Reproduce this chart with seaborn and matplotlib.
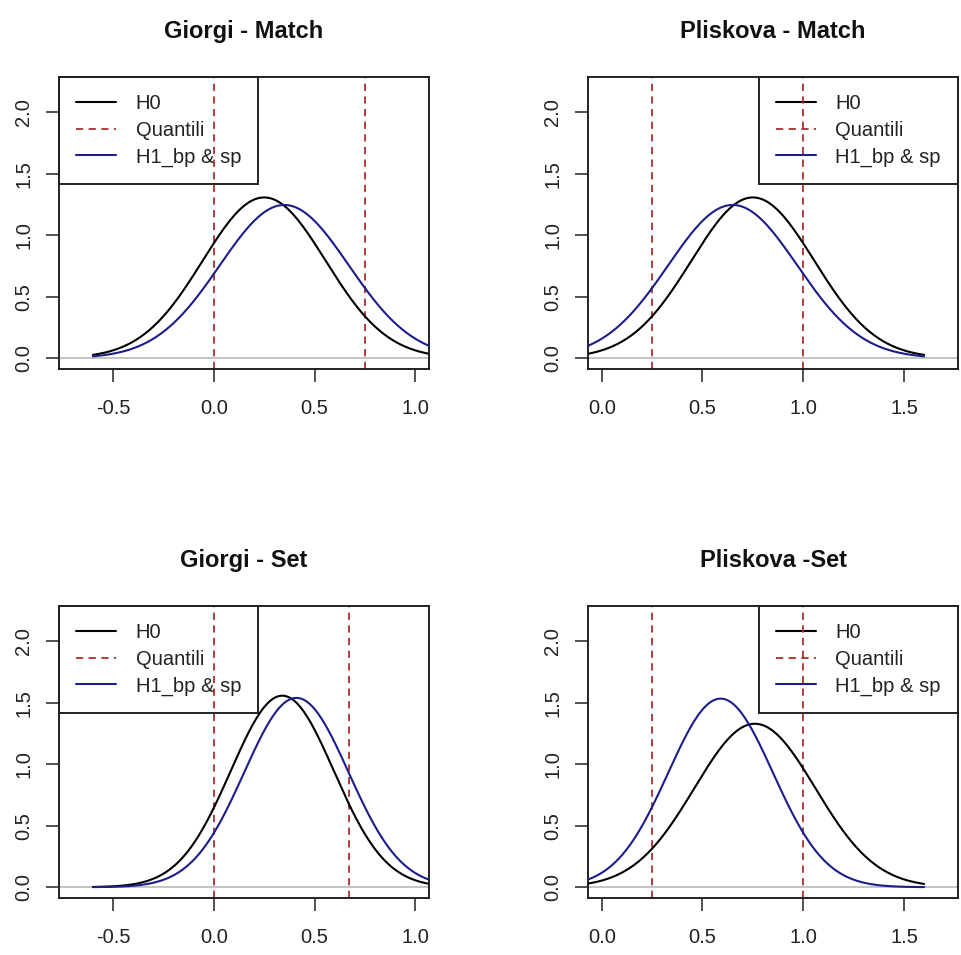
import numpy as np
import pandas as pd
import seaborn as sns
import matplotlib.pyplot as plt
from matplotlib.lines import Line2D

# titoli dei pannelli
panel_titles = ["Giorgi - Match", "Pliskova - Match", "Giorgi - Set", "Pliskova -Set"]

# parametri delle normali (media, deviazione standard)
h0_mean = [0.25, 0.75, 0.34, 0.76]
h0_sd = [0.305, 0.305, 0.256, 0.30]
h1_mean = [0.35, 0.65, 0.41, 0.59]
h1_sd = [0.32, 0.32, 0.259, 0.26]

# quantili (linee verticali)
quant_lo = [0.0, 0.25, 0.0, 0.25]
quant_hi = [0.75, 1.0, 0.67, 1.0]

# intervallo su cui sono disegnate le curve
x_from, x_to = -0.6, 1.6

# assi
x_ticks_giorgi = [-0.5, 0.0, 0.5, 1.0]
x_ticks_pliskova = [0.0, 0.5, 1.0, 1.5]
y_ticks = [0.0, 0.5, 1.0, 1.5, 2.0]

sns.set_style("white")
plt.rcParams['font.family'] = ['Liberation Sans', 'DejaVu Sans']
plt.rcParams['axes.unicode_minus'] = False

W, H = 961, 955
fig = plt.figure(figsize=(W / 100, H / 100), dpi=100)

# posizione dei pannelli in pixel: (sinistra, destra, alto, basso)
boxes = [(59, 429, 77, 369), (588, 958, 77, 369),
         (59, 429, 606, 898), (588, 958, 606, 898)]

col_h0 = "black"
col_q = "#a83030"
col_h1 = "#1c1c8c"


def normal_density(m, s, x):
    return np.exp(-0.5 * ((x - m) / s) ** 2) / (s * np.sqrt(2 * np.pi))


x = np.linspace(x_from, x_to, 400)

for i in range(4):
    l, r, t, b = boxes[i]
    ax = fig.add_axes([l / W, (H - b) / H, (r - l) / W, (b - t) / H])

    df = pd.DataFrame({'x': x,
                       'H0': normal_density(h0_mean[i], h0_sd[i], x),
                       'H1': normal_density(h1_mean[i], h1_sd[i], x)})

    ax.axhline(0, color="#bebebe", lw=1.3, zorder=1)
    sns.lineplot(data=df, x='x', y='H0', color=col_h0, lw=1.5, ax=ax, zorder=3)
    sns.lineplot(data=df, x='x', y='H1', color=col_h1, lw=1.5, ax=ax, zorder=3)
    for q in (quant_lo[i], quant_hi[i]):
        ax.axvline(q, color=col_q, lw=1.3, ls=(0, (4, 3)), zorder=2)

    if i % 2 == 0:
        ax.set_xlim(-0.768, 1.068)
        xt = x_ticks_giorgi
        loc = 'upper left'
    else:
        ax.set_xlim(-0.068, 1.768)
        xt = x_ticks_pliskova
        loc = 'upper right'
    ax.set_ylim(-0.088, 2.288)

    ax.set_xticks(xt)
    ax.set_xticklabels([f"{v:.1f}" for v in xt])
    ax.set_yticks(y_ticks)
    ax.set_yticklabels([f"{v:.1f}" for v in y_ticks], rotation=90, va='center')
    ax.tick_params(axis='both', direction='out', length=9.5, width=1.1,
                   labelsize=14.5, colors='#222222', bottom=True, left=True)
    ax.tick_params(axis='x', pad=12)
    ax.tick_params(axis='y', pad=9)
    ax.set_xlabel('')
    ax.set_ylabel('')
    for sp in ax.spines.values():
        sp.set_color('#222222')
        sp.set_linewidth(1.4)

    ax.set_title(panel_titles[i], fontsize=17, fontweight='bold', pad=28,
                 color='#111111')

    handles = [Line2D([], [], color=col_h0, lw=1.5),
               Line2D([], [], color=col_q, lw=1.3, ls=(0, (4, 3))),
               Line2D([], [], color=col_h1, lw=1.5)]
    leg = ax.legend(handles, ["H0", "Quantili", "H1_bp & sp"], loc=loc,
                    fontsize=14.5, frameon=True, fancybox=False, borderaxespad=0,
                    handlelength=2.0, handletextpad=0.95, labelspacing=0.38,
                    borderpad=0.85)
    leg.get_frame().set_edgecolor('#222222')
    leg.get_frame().set_linewidth(1.4)
    leg.get_frame().set_alpha(1)
    for txt in leg.get_texts():
        txt.set_color('#222222')
    leg.set_zorder(1.5)

fig.savefig('out.png', dpi=100, facecolor='white')
